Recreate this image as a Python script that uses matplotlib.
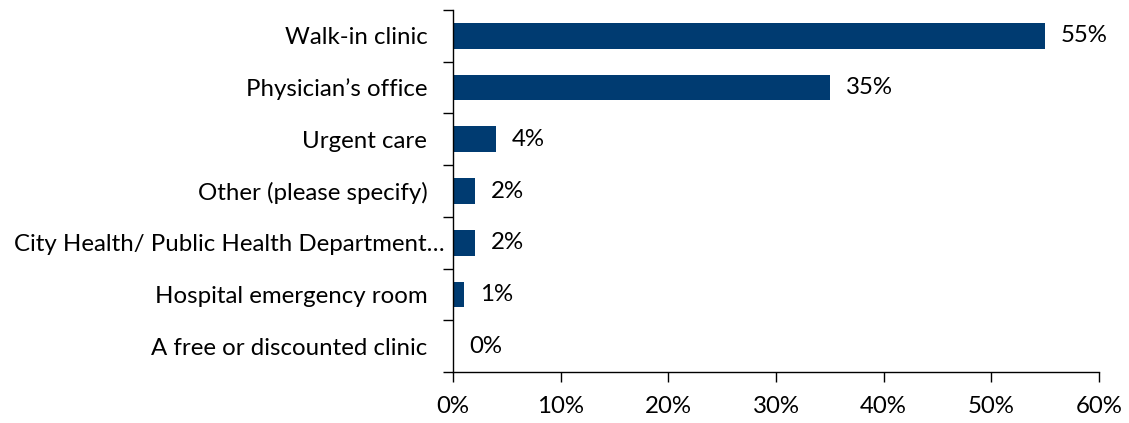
import matplotlib
matplotlib.use("Agg")
import matplotlib.pyplot as plt
import matplotlib.transforms as mtransforms
import numpy as np
from matplotlib.ticker import FixedLocator, PercentFormatter

categories = ["Walk-in clinic", "Physician\u2019s office", "Urgent care",
              "Other (please specify)", "City Health/ Public Health Department\u2026",
              "Hospital emergency room", "A free or discounted clinic"]
values = [55, 35, 4, 2, 2, 1, 0]
xticks = [0, 10, 20, 30, 40, 50, 60]

plt.rcParams['font.family'] = ['Lato', 'DejaVu Sans']
fs = 17.3
color = "#003B71"

fig = plt.figure(figsize=(11.29, 4.23), dpi=100)
ax = fig.add_axes([453/1129, 1 - 372/423, (1099 - 453)/1129, (372 - 10)/423])

n = len(categories)
y = np.arange(n)
ax.barh(y, values, height=0.5, color=color)
ax.set_ylim(n - 0.5, -0.5)
ax.set_xlim(0, 60)

ax.set_yticks(y)
ax.set_yticklabels(categories, fontsize=fs)
ax.tick_params(axis='y', which='major', length=0, pad=18.5)
ax.yaxis.set_minor_locator(FixedLocator(np.arange(-0.5, n, 1.0)))
ax.tick_params(axis='y', which='minor', length=7, direction='out', width=1)

# the long truncated label sits further right in the original
for lbl in ax.get_yticklabels():
    if lbl.get_text().startswith("City Health"):
        lbl.set_transform(lbl.get_transform() + mtransforms.ScaledTranslation(17/100, 0, fig.dpi_scale_trans))

ax.set_xticks(xticks)
ax.xaxis.set_major_formatter(PercentFormatter(decimals=0))
ax.tick_params(axis='x', which='major', length=7, direction='out', width=1, labelsize=fs, pad=10)

for s in ['top', 'right']:
    ax.spines[s].set_visible(False)
for s in ['left', 'bottom']:
    ax.spines[s].set_linewidth(1)
    ax.spines[s].set_color('black')

for yi, v in zip(y, values):
    ax.annotate(f"{v}%", xy=(v, yi), xytext=(16, 0), textcoords='offset pixels',
                va='center', ha='left', fontsize=fs)

fig.savefig("out.png", dpi=100)
